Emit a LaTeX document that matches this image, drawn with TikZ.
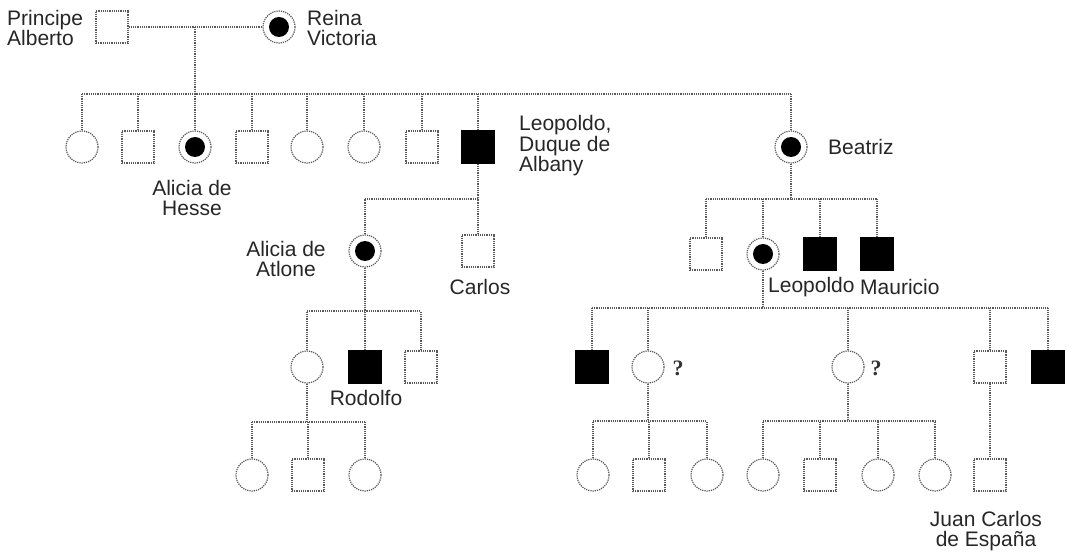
\documentclass[tikz,border=0pt]{standalone}
\usepackage{fontspec}
\setmainfont{Liberation Sans}
\newfontfamily\QuestionFont{Liberation Serif}
\usetikzlibrary{calc}
\newcommand{\Size}{32pt}
\tikzset{
	Line/.style={
		draw=gray!70!black,
		densely dotted,
		line width=1.2pt,
	},
	Male/.style={
		Line,
		rectangle,
		inner sep=0pt,
		minimum size=\Size,
		fill=white,
	},
	Female/.style={
		Line,
		circle,
		inner sep=0pt,
		minimum size=\Size,
		fill=white,
	},
	Affected/.style={Male, draw=black, solid, fill=black},
	Carrier/.style={Female,
		path picture={\fill[black] (path picture bounding box.center) circle (10pt);},
	},
	Name/.style={
		inner sep=0pt,
		font=\fontsize{21}{20.5}\selectfont,
		text=black!85,
	},
	Question/.style={
		inner sep=0pt,
		font=\QuestionFont\bfseries\fontsize{22}{22}\selectfont,
		text=black!80,
	},
}
\def\GenTwo{82/Female/g2a, 138/Male/g2b, 195/Carrier/hesse, 252/Male/g2d, 307/Female/g2e, 364/Female/g2f, 422/Male/g2g, 478/Affected/albany, 791/Carrier/beatriz}
\def\GenThreeB{706/Male/g3a, 763/Carrier/ena, 820/Affected/leopoldo, 877/Affected/mauricio}
\def\GenFourA{307/Female/g4a, 365/Affected/rodolfo, 421/Male/g4c}
\def\GenFourB{592/Affected/g4d, 648/Female/g4e, 848/Female/g4f, 990/Male/g4g, 1048/Affected/g4h}
\def\GenFive{252/Female/g5a, 308/Male/g5b, 365/Female/g5c, 593/Female/g5d, 649/Male/g5e, 707/Female/g5f, 763/Female/g5g, 820/Male/g5h, 878/Female/g5i, 935/Female/g5j, 990/Male/juancarlos}

\begin{document}
\begin{tikzpicture}[x=1pt, y=-1pt]
	\useasboundingbox (0,0) rectangle (1066,553);
	% first generation
	\node [Male] (alberto) at (112,27) {};
	\node [Carrier] (victoria) at (279,27) {};
	\node [Name, anchor=west, align=left] (albertoLbl) at (7,28) {Principe\\Alberto};
	\node [Name, anchor=west, align=left] (victoriaLbl) at (307,28) {Reina\\Victoria};
	\draw [Line] (alberto) -- (victoria);
	\coordinate (mA) at (195,27);
	\coordinate (sibA) at (195,94);
	% nodes of every generation
	\foreach \x/\Kind/\Name in \GenTwo {\node [\Kind] (\Name) at (\x,147) {};}
	\node [Male] (carlos) at (478,251) {};
	\node [Carrier] (atlone) at (365,251) {};
	\foreach \x/\Kind/\Name in \GenThreeB {\node [\Kind] (\Name) at (\x,254) {};}
	\foreach \x/\Kind/\Name in \GenFourA {\node [\Kind] (\Name) at (\x,367) {};}
	\foreach \x/\Kind/\Name in \GenFourB {\node [\Kind] (\Name) at (\x,367) {};}
	\foreach \x/\Kind/\Name in \GenFive {\node [\Kind] (\Name) at (\x,475) {};}
	% Victoria's children
	\draw [Line] (mA) -- (sibA);
	\draw [Line] (g2a.north |- sibA) -- (beatriz.north |- sibA);
	\foreach \Name in {g2a, g2b, hesse, g2d, g2e, g2f, g2g, albany, beatriz}{%
		\draw [Line] (\Name.north) -- (\Name.north |- sibA);
	}
	% Albany's children
	\coordinate (sibB) at (478,199);
	\draw [Line] (albany.south) -- (sibB) -- (atlone.north |- sibB);
	\foreach \Name in {atlone, carlos}{%
		\draw [Line] (\Name.north) -- (\Name.north |- sibB);
	}
	% Beatriz's children
	\coordinate (sibC) at (791,199);
	\draw [Line] (beatriz.south) -- (sibC);
	\draw [Line] (g3a.north |- sibC) -- (mauricio.north |- sibC);
	\foreach \Name in {g3a, ena, leopoldo, mauricio}{%
		\draw [Line] (\Name.north) -- (\Name.north |- sibC);
	}
	% Atlone's children
	\coordinate (sibD) at (365,311);
	\draw [Line] (atlone.south) -- (sibD);
	\draw [Line] (g4a.north |- sibD) -- (g4c.north |- sibD);
	\foreach \Name in {g4a, rodolfo, g4c}{%
		\draw [Line] (\Name.north) -- (\Name.north |- sibD);
	}
	% Ena's children
	\coordinate (sibE) at (763,308);
	\draw [Line] (ena.south) -- (sibE);
	\draw [Line] (g4d.north |- sibE) -- (g4h.north |- sibE);
	\foreach \Name in {g4d, g4e, g4f, g4g, g4h}{%
		\draw [Line] (\Name.north) -- (\Name.north |- sibE);
	}
	% fifth generation
	\coordinate (sibF) at (307,422);
	\draw [Line] (g4a.south) -- (sibF);
	\draw [Line] (g5a.north |- sibF) -- (g5c.north |- sibF);
	\foreach \Name in {g5a, g5b, g5c}{%
		\draw [Line] (\Name.north) -- (\Name.north |- sibF);
	}
	\coordinate (sibG) at (648,421);
	\draw [Line] (g4e.south) -- (sibG);
	\draw [Line] (g5d.north |- sibG) -- (g5f.north |- sibG);
	\foreach \Name in {g5d, g5e, g5f}{%
		\draw [Line] (\Name.north) -- (\Name.north |- sibG);
	}
	\coordinate (sibH) at (848,421);
	\draw [Line] (g4f.south) -- (sibH);
	\draw [Line] (g5g.north |- sibH) -- (g5j.north |- sibH);
	\foreach \Name in {g5g, g5h, g5i, g5j}{%
		\draw [Line] (\Name.north) -- (\Name.north |- sibH);
	}
	\draw [Line] (g4g.south) -- (juancarlos.north);
	% names
	\node [Name, align=center] (hesseLbl) at (192,198) {Alicia de\\Hesse};
	\node [Name, anchor=west, align=left] (albanyLbl) at (519,146) {Leopoldo,\\Duque de\\Albany};
	\node [Name, anchor=west] (beatrizLbl) at (828,147) {Beatriz};
	\node [Name, align=center] (atloneLbl) at (286,259) {Alicia de\\Atlone};
	\node [Name] (carlosLbl) at (480,287) {Carlos};
	\node [Name, anchor=west] (leopoldoLbl) at (768,287) {Leopoldo};
	\node [Name, anchor=west] (mauricioLbl) at (860,287) {Mauricio};
	\node [Name] (rodolfoLbl) at (366,398) {Rodolfo};
	\node [Name, align=center] (juancarlosLbl) at (986,531) {Juan Carlos\\de España};
	\node [Question] (q1) at (678,368) {?};
	\node [Question] (q2) at (876,368) {?};
\end{tikzpicture}
\end{document}
